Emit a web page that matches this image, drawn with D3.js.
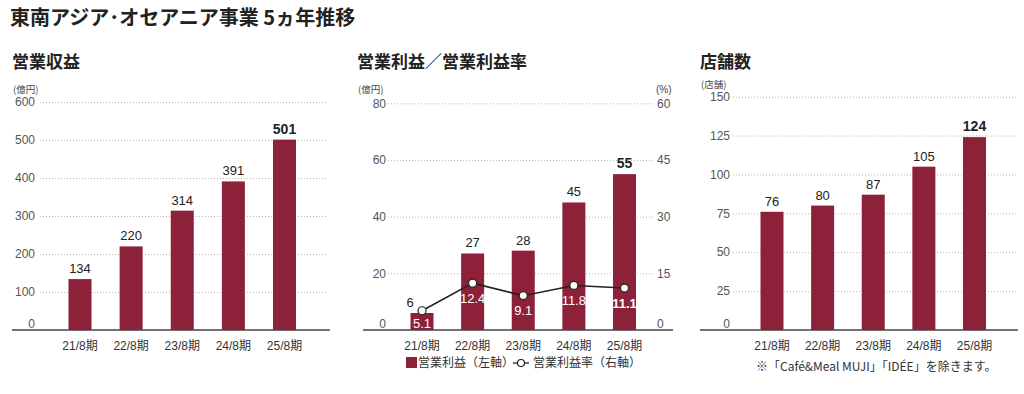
<!DOCTYPE html>
<html>
<head>
<meta charset="utf-8">
<script src="https://d3js.org/d3.v7.min.js"></script>
<style>
  body { margin: 0; background: #fff; }
  svg { display: block; }
  text { font-family: "Liberation Sans Narrow", "Liberation Sans", "Noto Sans CJK JP", sans-serif; }
  .jp { font-family: "Noto Sans CJK JP", sans-serif; }
</style>
</head>
<body>
<script>
// data
var periods = ["21/8期", "22/8期", "23/8期", "24/8期", "25/8期"];
var revenue = [134, 220, 314, 391, 501];
var profit = [6, 27, 28, 45, 55];
var margin = [5.1, 12.4, 9.1, 11.8, 11.1];
var stores = [76, 80, 87, 105, 124];
var revenueTicks = [0, 100, 200, 300, 400, 500, 600];
var profitTicks = [0, 20, 40, 60, 80];
var marginTicks = [0, 15, 30, 45, 60];
var storeTicks = [0, 25, 50, 75, 100, 125, 150];

var barColor = "#8c2139";
var W = 1024, H = 394;
var baseY = 330;

var svg = d3.select("body").append("svg").attr("width", W).attr("height", H);

svg.append("text").attr("class", "jp").attr("x", 10).attr("y", 25)
  .attr("font-size", 20).attr("font-weight", "bold").attr("fill", "#222")
  .text("東南アジア･オセアニア事業 5ヵ年推移");

function panel(opt) {
  var g = svg.append("g");
  var x = d3.scalePoint().domain(periods).range([opt.x0, opt.x1]);
  var y = d3.scaleLinear().domain(opt.domain).range([baseY, opt.top]);

  g.append("text").attr("class", "jp").attr("x", opt.titleX).attr("y", 68)
    .attr("font-size", 17).attr("font-weight", "bold").attr("fill", "#222").text(opt.title);
  g.append("text").attr("class", "jp").attr("x", opt.titleX + 1).attr("y", opt.unitY)
    .attr("font-size", 9.5).attr("fill", "#444").text(opt.unit);

  // grid
  var grid = opt.ticks.filter(function(d) { return d > 0; });
  g.selectAll(".grid").data(grid).enter().append("line")
    .attr("x1", opt.gx0).attr("x2", opt.gx1)
    .attr("y1", function(d) { return y(d) + 0.5; }).attr("y2", function(d) { return y(d) + 0.5; })
    .attr("stroke", "#b5b5b5").attr("stroke-width", 1).attr("stroke-dasharray", "1,2");

  g.selectAll(".tick").data(opt.ticks).enter().append("text")
    .attr("x", opt.tickX).attr("y", function(d) { return d === 0 ? y(d) - 6 : y(d); })
    .attr("dy", "0.35em").attr("text-anchor", "end")
    .attr("font-size", 12).attr("fill", "#555").text(function(d) { return d; });

  var bw = 23;
  g.selectAll(".bar").data(opt.values).enter().append("rect")
    .attr("x", function(d, i) { return x(periods[i]) - bw / 2; })
    .attr("y", function(d) { return y(d); })
    .attr("width", bw).attr("height", function(d) { return baseY - y(d); })
    .attr("fill", barColor);

  g.selectAll(".val").data(opt.values).enter().append("text")
    .attr("x", function(d, i) { return x(periods[i]) + (opt.shift ? opt.shift[i] : 0); })
    .attr("y", function(d) { return y(d) - 6; })
    .attr("text-anchor", "middle")
    .attr("font-size", function(d, i) { return i === 4 ? 14 : 13; })
    .attr("font-weight", function(d, i) { return i === 4 ? "bold" : "normal"; })
    .attr("fill", "#222").text(function(d) { return d; });

  g.append("line").attr("x1", opt.ax0).attr("x2", opt.ax1)
    .attr("y1", baseY).attr("y2", baseY).attr("stroke", "#444").attr("stroke-width", 1.5);

  g.selectAll(".xl").data(periods).enter().append("text")
    .attr("x", function(d) { return x(d); }).attr("y", 350)
    .attr("text-anchor", "middle").attr("font-size", 12).attr("fill", "#333").text(function(d) { return d; });

  return { g: g, x: x, y: y };
}

panel({ title: "営業収益", unit: "(億円)", unitY: 93, titleX: 12, x0: 80, x1: 284.5, top: 102,
  domain: [0, 600], ticks: revenueTicks, values: revenue,
  gx0: 40, gx1: 326, tickX: 35, ax0: 12, ax1: 330 });

var p2 = panel({ title: "営業利益／営業利益率", unit: "(億円)", unitY: 93, titleX: 357, x0: 422, x1: 624.5, top: 103.3,
  domain: [0, 80], ticks: profitTicks, values: profit,
  shift: [-12, 0, 0, 0, 0],
  gx0: 388, gx1: 653, tickX: 386, ax0: 363, ax1: 673 });

// right axis for margin
var y2 = d3.scaleLinear().domain([0, 60]).range([baseY, 103.3]);
p2.g.selectAll(".rt").data(marginTicks).enter().append("text")
  .attr("x", 657).attr("y", function(d) { return d === 0 ? y2(d) - 6 : y2(d); })
  .attr("dy", "0.35em").attr("font-size", 12).attr("fill", "#555").text(function(d) { return d; });
p2.g.append("text").attr("x", 656).attr("y", 93).attr("font-size", 10).attr("fill", "#444").text("(%)");

var line = d3.line().x(function(d, i) { return p2.x(periods[i]); }).y(function(d) { return y2(d); });
p2.g.append("path").datum(margin).attr("d", line)
  .attr("fill", "none").attr("stroke", "#222").attr("stroke-width", 1.5);
p2.g.selectAll(".pt").data(margin).enter().append("circle")
  .attr("cx", function(d, i) { return p2.x(periods[i]); }).attr("cy", function(d) { return y2(d); })
  .attr("r", 4).attr("fill", "#fff").attr("stroke", "#222").attr("stroke-width", 1.2);
p2.g.selectAll(".ml").data(margin).enter().append("text")
  .attr("x", function(d, i) { return p2.x(periods[i]); })
  .attr("y", function(d, i) { return y2(d) + (i === 0 ? 13 : 15); }).attr("dy", "0.35em")
  .attr("text-anchor", "middle").attr("font-size", 13)
  .attr("font-weight", function(d, i) { return i === 4 ? "bold" : "normal"; })
  .attr("fill", "#fff").text(function(d) { return d.toFixed(1); });

// legend
var lg = svg.append("g").attr("transform", "translate(0,363)");
lg.append("rect").attr("x", 406).attr("y", -6).attr("width", 11).attr("height", 11).attr("fill", barColor);
lg.append("text").attr("class", "jp").attr("x", 418).attr("y", 0).attr("dy", "0.35em")
  .attr("font-size", 12).attr("fill", "#333").text("営業利益（左軸）");
lg.append("line").attr("x1", 513).attr("x2", 529).attr("y1", 0).attr("y2", 0).attr("stroke", "#222").attr("stroke-width", 1.3);
lg.append("circle").attr("cx", 521).attr("cy", 0).attr("r", 3.5).attr("fill", "#fff").attr("stroke", "#222").attr("stroke-width", 1.2);
lg.append("text").attr("class", "jp").attr("x", 533).attr("y", 0).attr("dy", "0.35em")
  .attr("font-size", 12).attr("fill", "#333").text("営業利益率（右軸）");

panel({ title: "店舗数", unit: "(店舗)", unitY: 88, titleX: 700, x0: 772, x1: 974.5, top: 96.7,
  domain: [0, 150], ticks: storeTicks, values: stores,
  gx0: 733, gx1: 1017, tickX: 730, ax0: 700, ax1: 1018 });

svg.append("text").attr("class", "jp").attr("x", 756).attr("y", 367).attr("dy", "0.35em")
  .attr("font-size", 12).attr("fill", "#333").text("※「Café&Meal MUJI」「IDÉE」を除きます。");
</script>
</body>
</html>
